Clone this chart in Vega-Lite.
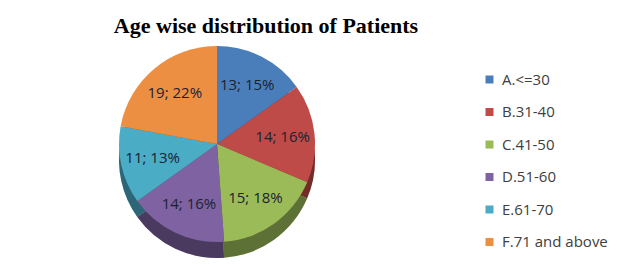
{
  "$schema": "https://vega.github.io/schema/vega-lite/v6.json",
  "width": 424,
  "height": 196,
  "padding": {"left": 5, "top": 15, "right": 5, "bottom": 5},
  "background": "white",
  "title": {
    "text": "Age wise distribution of Patients",
    "font": "Liberation Serif",
    "fontSize": 22,
    "fontWeight": "bold",
    "color": "#000000",
    "anchor": "middle",
    "frame": "group",
    "dx": 49,
    "offset": 8
  },
  "data": {
    "values": [
      {"cat": "A.<=30", "ord": 1, "count": 13, "label": "13; 15%"},
      {"cat": "B.31-40", "ord": 2, "count": 14, "label": "14; 16%"},
      {"cat": "C.41-50", "ord": 3, "count": 15, "label": "15; 18%"},
      {"cat": "D.51-60", "ord": 4, "count": 14, "label": "14; 16%"},
      {"cat": "E.61-70", "ord": 5, "count": 11, "label": "11; 13%"},
      {"cat": "F.71 and above", "ord": 6, "count": 19, "label": "19; 22%"}
    ]
  },
  "encoding": {
    "theta": {"field": "count", "type": "quantitative", "stack": true},
    "order": {"field": "ord", "type": "quantitative"}
  },
  "layer": [
    {
      "mark": {"type": "arc", "yOffset": 16},
      "encoding": {
        "color": {
          "field": "cat",
          "type": "nominal",
          "scale": {
            "domain": ["A.<=30", "B.31-40", "C.41-50", "D.51-60", "E.61-70", "F.71 and above"],
            "range": ["#4A7EBB", "#BE4B48", "#9BBB59", "#7E62A1", "#4BACC6", "#ED8F43"]
          },
          "legend": {
            "title": null,
            "orient": "none",
            "legendX": 477,
            "legendY": 26,
            "labelFont": "Open Sans",
            "labelFontSize": 15,
            "labelColor": "#404040",
            "symbolType": "square",
            "symbolSize": 64,
            "symbolStrokeWidth": 0,
            "rowPadding": 16.5,
            "labelOffset": 5
          }
        }
      }
    },
    {
      "mark": {"type": "arc", "yOffset": 16, "color": "#000000", "opacity": 0.4},
      "encoding": {"detail": {"field": "cat"}}
    },
    {
      "mark": {"type": "arc"},
      "encoding": {"color": {"field": "cat", "type": "nominal"}}
    },
    {
      "mark": {"type": "text", "radius": 66, "font": "Open Sans", "fontSize": 15, "color": "#1C2230"},
      "encoding": {
        "detail": {"field": "cat"},
        "text": {"field": "label"}
      }
    }
  ]
}
